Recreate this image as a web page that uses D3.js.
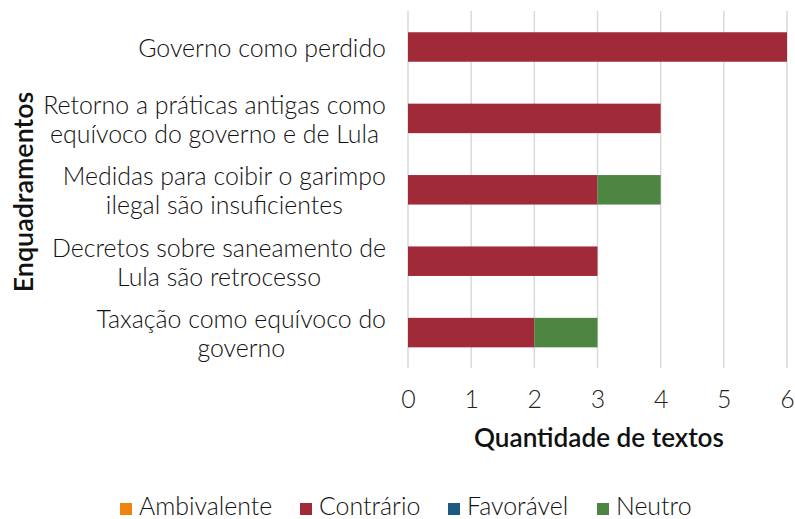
<!DOCTYPE html>
<html><head><meta charset="utf-8">
<script src="https://cdn.jsdelivr.net/npm/d3@7"></script>
<style>body{margin:0;background:#fff}svg{display:block}</style>
</head><body>
<svg id="c" width="795" height="519"></svg>
<script>
const categories = [
  "Governo como perdido",
  "Retorno a práticas antigas como\nequívoco do governo e de Lula",
  "Medidas para coibir o garimpo\nilegal são insuficientes",
  "Decretos sobre saneamento de\nLula são retrocesso",
  "Taxação como equívoco do\ngoverno"
];
const seriesNames = ["Ambivalente", "Contrário", "Favorável", "Neutro"];
const ambivalente = [0, 0, 0, 0, 0];
const contrario   = [6, 4, 3, 3, 2];
const favoravel   = [0, 0, 0, 0, 0];
const neutro      = [0, 0, 1, 0, 1];
const xTicks = [0, 1, 2, 3, 4, 5, 6];
const colors = ["#F0830E", "#A02A38", "#1D5A83", "#4D8643"];

const FONT = "Lato, 'Open Sans', sans-serif";
const REG = 300, BOLD = 600;
const svg = d3.select("#c");

const rows = categories.map((c, i) => ({
  cat: c, Ambivalente: ambivalente[i], "Contrário": contrario[i],
  "Favorável": favoravel[i], Neutro: neutro[i]
}));
const stack = d3.stack().keys(seriesNames)(rows);

const x = d3.scaleLinear().domain([0, 6]).range([408, 787]);
const y = d3.scaleBand().domain(categories).range([11.3, 368.3]).padding(0);
const barH = y.bandwidth() * 0.413;
const color = d3.scaleOrdinal().domain(seriesNames).range(colors);

// font calibration
function measure(s) {
  const p = svg.append("text").attr("font-family", FONT).attr("font-weight", REG).attr("font-size", 20).text(s);
  const w = p.node().getComputedTextLength(); p.remove(); return w;
}
const fs = 20 * (252 + 339) / (measure("Governo como perdido") + measure("Retorno a práticas antigas como"));

// gridlines
svg.append("g").selectAll("line").data(xTicks).join("line")
  .attr("x1", d => x(d)).attr("x2", d => x(d))
  .attr("y1", 11).attr("y2", 368)
  .attr("stroke", "#D9D9D9").attr("stroke-width", 1.5);

// bars
svg.append("g").selectAll("g").data(stack).join("g")
  .attr("fill", d => color(d.key))
  .selectAll("rect").data(d => d).join("rect")
  .attr("x", d => x(d[0]))
  .attr("width", d => x(d[1]) - x(d[0]))
  .attr("y", d => y(d.data.cat) + (y.bandwidth() - barH) / 2)
  .attr("height", barH);

// x tick labels
const xAxis = d3.axisBottom(x).tickValues(xTicks).tickFormat(d3.format("d")).tickSize(0).tickPadding(0);
const gx = svg.append("g").attr("transform", "translate(0,392)").call(xAxis);
gx.select(".domain").remove();
gx.selectAll("text").attr("font-family", FONT).attr("font-weight", REG).attr("font-size", fs).attr("fill", "#222").attr("dy", 0).attr("y", 16);

// category labels
const lineH = 29;
const labelRight = 386;
const lg = svg.append("g");
categories.forEach(c => {
  const lines = c.split("\n");
  const t = lg.append("text").attr("font-family", FONT).attr("font-weight", REG).attr("font-size", fs).attr("fill", "#111");
  const cy = y(c) + y.bandwidth() / 2;
  const tmp = lines.map(l => {
    const s = t.append("tspan").text(l);
    return {s, w: s.node().getComputedTextLength()};
  });
  const maxW = d3.max(tmp, d => d.w);
  const cx = labelRight - maxW / 2;
  tmp.forEach((d, i) => {
    d.s.attr("x", cx).attr("text-anchor", "middle")
      .attr("y", cy + (i - (lines.length - 1) / 2) * lineH)
      .attr("dominant-baseline", "central");
  });
});

// axis titles
svg.append("text").attr("x", 599).attr("y", 447).attr("text-anchor", "middle")
  .attr("font-family", FONT).attr("font-size", fs * 1.05).attr("font-weight", BOLD).attr("fill", "#111")
  .text("Quantidade de textos");
svg.append("text").attr("transform", "translate(33,192) rotate(-90)").attr("text-anchor", "middle")
  .attr("font-family", FONT).attr("font-size", fs * 1.08).attr("font-weight", BOLD).attr("fill", "#111")
  .text("Enquadramentos");

// legend
const legendX = [120, 300, 448, 597];
const leg = svg.append("g").selectAll("g").data(seriesNames).join("g")
  .attr("transform", (d, i) => `translate(${legendX[i]},0)`);
leg.append("rect").attr("x", 0).attr("y", 503).attr("width", 12).attr("height", 12).attr("fill", d => color(d));
leg.append("text").attr("x", 19).attr("y", 515).attr("font-family", FONT).attr("font-weight", REG).attr("font-size", fs).attr("fill", "#111").text(d => d);
</script>
</body></html>
